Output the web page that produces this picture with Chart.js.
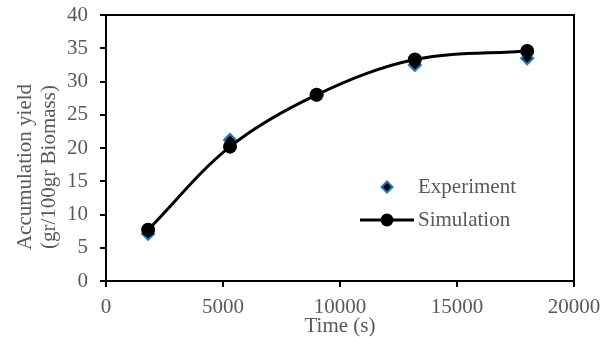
<!DOCTYPE html>
<html>
<head>
<meta charset="utf-8">
<script src="https://cdn.jsdelivr.net/npm/chart.js@4/dist/chart.umd.min.js"></script>
<style>
html,body{margin:0;padding:0;background:#fff;}
#wrap{width:612px;height:338px;position:relative;}
</style>
</head>
<body>
<div id="wrap"><canvas id="c" width="612" height="338"></canvas></div>
<script>
const timeExp = [1800, 5300, 9000, 13200, 18000];
const experiment = [7.1, 21.2, 28.0, 32.5, 33.5];
const timeSim = [1800, 5300, 9000, 13200, 18000];
const simulation = [7.7, 20.2, 28.0, 33.3, 34.6];
const xTicks = [0, 5000, 10000, 15000, 20000];
const yTicks = [0, 5, 10, 15, 20, 25, 30, 35, 40];
const xTitle = 'Time (s)';
const yTitle = ['Accumulation yield', '(gr/100gr Biomass)'];
const seriesNames = ['Experiment', 'Simulation'];

const FONT = '"Liberation Serif", "Times New Roman", serif';
const GRAY = '#595959';
const BLUE = '#1a7ac8';
const FS = 21;

const decor = {
  id: 'decor',
  afterDatasetsDraw(chart) {
    const {ctx, chartArea: a} = chart;
    ctx.save();
    ctx.strokeStyle = '#000';
    ctx.lineWidth = 2;
    ctx.beginPath();
    ctx.moveTo(a.left, a.top);
    ctx.lineTo(a.right, a.top);
    ctx.lineTo(a.right, a.bottom);
    ctx.stroke();
    // legend
    ctx.font = FS + 'px ' + FONT;
    ctx.textBaseline = 'middle';
    ctx.textAlign = 'left';
    const lx = 387, ly1 = 187, ly2 = 220;
    ctx.beginPath();
    ctx.moveTo(lx, ly1 - 5.5);
    ctx.lineTo(lx + 5.5, ly1);
    ctx.lineTo(lx, ly1 + 5.5);
    ctx.lineTo(lx - 5.5, ly1);
    ctx.closePath();
    ctx.fillStyle = '#000';
    ctx.fill();
    ctx.strokeStyle = BLUE;
    ctx.lineWidth = 2;
    ctx.stroke();
    ctx.beginPath();
    ctx.moveTo(360, ly2);
    ctx.lineTo(414, ly2);
    ctx.strokeStyle = '#000';
    ctx.lineWidth = 3;
    ctx.stroke();
    ctx.beginPath();
    ctx.arc(lx, ly2, 6.5, 0, Math.PI * 2);
    ctx.fillStyle = '#000';
    ctx.fill();
    ctx.fillStyle = GRAY;
    ctx.fillText(seriesNames[0], 418, ly1);
    ctx.fillText(seriesNames[1], 418, ly2);
    // axis titles
    ctx.textAlign = 'center';
    ctx.fillText(xTitle, 340, 326);
    ctx.save();
    ctx.translate(25, 167);
    ctx.rotate(-Math.PI / 2);
    ctx.fillText(yTitle[0], 0, 0);
    ctx.restore();
    ctx.save();
    ctx.translate(49, 167);
    ctx.rotate(-Math.PI / 2);
    ctx.fillText(yTitle[1], 0, 0);
    ctx.restore();
    ctx.restore();
  }
};

new Chart(document.getElementById('c'), {
  type: 'scatter',
  data: {
    datasets: [
      {
        label: seriesNames[1],
        data: timeSim.map((t, i) => ({x: t, y: simulation[i]})),
        showLine: true,
        borderColor: '#000',
        backgroundColor: '#000',
        borderWidth: 3,
        tension: 0.35,
        pointRadius: 7,
        pointStyle: 'circle',
        pointBorderWidth: 0,
        order: 0
      },
      {
        label: seriesNames[0],
        data: timeExp.map((t, i) => ({x: t, y: experiment[i]})),
        showLine: false,
        pointStyle: 'rectRot',
        pointRadius: 6,
        pointBorderWidth: 2,
        pointBorderColor: BLUE,
        pointBackgroundColor: '#000',
        order: 1
      }
    ]
  },
  options: {
    responsive: false,
    animation: false,
    devicePixelRatio: 1,
    layout: {autoPadding: false, padding: {left: 0, right: 38, top: 15, bottom: 0}},
    plugins: {legend: {display: false}, tooltip: {enabled: false}},
    scales: {
      x: {
        type: 'linear',
        min: 0, max: 20000,
        afterBuildTicks(s) { s.ticks = xTicks.map(v => ({value: v})); },
        afterFit(s) { s.height = 57; s.paddingLeft = 0; s.paddingRight = 0; },
        grid: {drawOnChartArea: false, drawTicks: true, tickLength: 6, color: '#000', lineWidth: 2},
        border: {display: true, color: '#000', width: 2},
        ticks: {color: GRAY, font: {family: FONT, size: FS}, padding: 8, maxRotation: 0, callback: v => String(v)}
      },
      y: {
        type: 'linear',
        min: 0, max: 40,
        afterBuildTicks(s) { s.ticks = yTicks.map(v => ({value: v})); },
        afterFit(s) { s.width = 106; s.paddingTop = 0; s.paddingBottom = 0; },
        grid: {drawOnChartArea: false, drawTicks: true, tickLength: 6, color: '#000', lineWidth: 2},
        border: {display: true, color: '#000', width: 2},
        ticks: {color: GRAY, font: {family: FONT, size: FS}, padding: 12, callback: v => String(v)}
      }
    }
  },
  plugins: [decor]
});
</script>
</body>
</html>
